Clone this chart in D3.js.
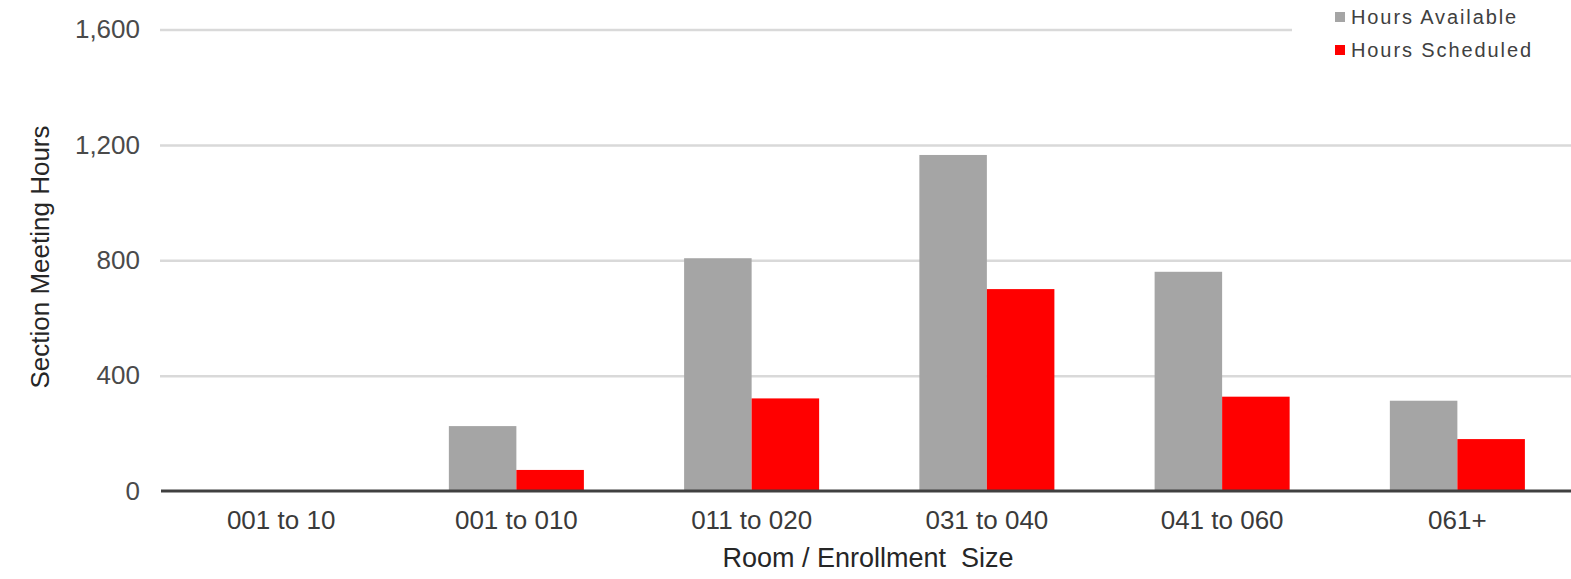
<!DOCTYPE html>
<html>
<head>
<meta charset="utf-8">
<script src="https://cdn.jsdelivr.net/npm/d3@7"></script>
<style>
  html, body { margin: 0; padding: 0; background: #fff; }
  svg { display: block; }
  text { font-family: "Liberation Sans", Arial, sans-serif; }
</style>
</head>
<body>
<div id="chart"></div>
<script>
const categories = ["001 to 10", "001 to 010", "011 to 020", "031 to 040", "041 to 060", "061+"];
const seriesNames = ["Hours Available", "Hours Scheduled"];
const hoursAvailable = [0, 225, 807, 1165, 760, 313];
const hoursScheduled = [0, 73, 321, 700, 327, 180];
const yTicks = [0, 400, 800, 1200, 1600];
const yTitle = "Section Meeting Hours";
const xTitle = "Room / Enrollment  Size";

const W = 1571, H = 579;
const colors = { "Hours Available": "#a5a5a5", "Hours Scheduled": "#ff0000" };

const svg = d3.select("#chart").append("svg").attr("width", W).attr("height", H);

const x0 = d3.scaleBand().domain(categories).range([163.5, 1575]).paddingInner(0.426).paddingOuter(0.213);
const x1 = d3.scaleBand().domain(seriesNames).range([0, x0.bandwidth()]);
const y = d3.scaleLinear().domain([0, 1600]).range([491, 29.5]);

const fmt = d3.format(",");

// gridlines
const yAxis = d3.axisLeft(y).tickValues(yTicks.filter(t => t > 0)).tickSize(-(W - 160)).tickFormat("");
const gGrid = svg.append("g").attr("transform", "translate(160,0)").call(yAxis);
gGrid.select(".domain").remove();
gGrid.selectAll("line").attr("stroke", "#d9d9d9").attr("stroke-width", 2.5);

// y tick labels
const yLab = d3.axisLeft(y).tickValues(yTicks).tickSize(0).tickPadding(0).tickFormat(fmt);
const gY = svg.append("g").attr("transform", "translate(140,0)").call(yLab);
gY.select(".domain").remove();
gY.selectAll("text").attr("font-size", 26).attr("fill", "#4a4a4a")
  .attr("font-family", "'Liberation Sans', Arial, sans-serif");

// bars
const rows = categories.map((c, i) => ({ cat: c, vals: [
  { key: seriesNames[0], v: hoursAvailable[i] },
  { key: seriesNames[1], v: hoursScheduled[i] }
]}));

const groups = svg.append("g").selectAll("g").data(rows).join("g")
  .attr("transform", d => `translate(${x0(d.cat)},0)`);
groups.selectAll("rect").data(d => d.vals).join("rect")
  .attr("x", d => x1(d.key))
  .attr("width", x1.bandwidth())
  .attr("y", d => y(d.v))
  .attr("height", d => y(0) - y(d.v))
  .attr("fill", d => colors[d.key]);

// x axis
const xAxis = d3.axisBottom(x0).tickSize(0).tickPadding(0);
const gX = svg.append("g").attr("transform", `translate(0,${y(0)})`).call(xAxis);
gX.select(".domain").remove();
gX.append("line").attr("x1", 161).attr("x2", W).attr("y1", 0).attr("y2", 0)
  .attr("stroke", "#404040").attr("stroke-width", 3);
gX.selectAll(".tick text").attr("font-size", 26).attr("fill", "#3a3a3a")
  .attr("font-family", "'Liberation Sans', Arial, sans-serif")
  .attr("dy", null).attr("y", 38);

// axis titles
svg.append("text").attr("transform", "translate(49,257) rotate(-90)")
  .attr("text-anchor", "middle").attr("font-size", 26).attr("fill", "#262626")
  .text(yTitle);
svg.append("text").attr("x", 868).attr("y", 567).attr("text-anchor", "middle")
  .attr("font-size", 27).attr("fill", "#262626").style("white-space", "pre")
  .text(xTitle);

// legend
const lg = svg.append("g");
lg.append("rect").attr("x", 1292).attr("y", 0).attr("width", W - 1292).attr("height", 68).attr("fill", "#fff");
const items = lg.selectAll("g").data(seriesNames).join("g")
  .attr("transform", (d, i) => `translate(1335,${17 + i * 33})`);
items.append("rect").attr("x", 0).attr("y", -5).attr("width", 10).attr("height", 10)
  .attr("fill", d => colors[d]);
items.append("text").attr("x", 16).attr("y", 0).attr("dy", "0.35em")
  .attr("font-size", 20).attr("letter-spacing", 1.9).attr("fill", "#404040")
  .text(d => d);
</script>
</body>
</html>
